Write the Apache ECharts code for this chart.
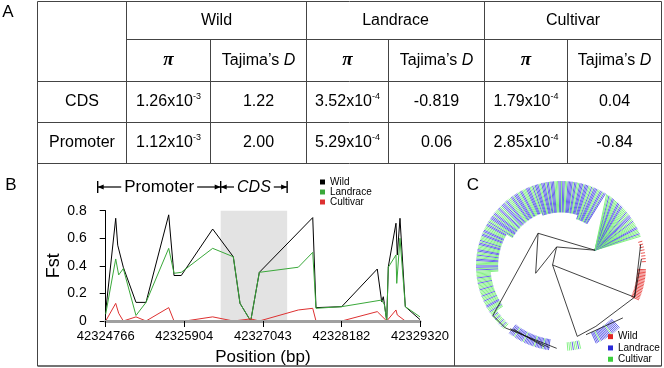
<!DOCTYPE html>
<html>
<head>
<meta charset="utf-8">
<script src="https://cdn.jsdelivr.net/npm/echarts@6/dist/echarts.min.js"></script>
<style>
html, body { margin: 0; padding: 0; background: #fff; }
#main { width: 664px; height: 368px; }
</style>
</head>
<body>
<div id="main"></div>
<script>
/* ---------- A: diversity table ---------- */
var groups = ['Wild', 'Landrace', 'Cultivar'];
var rowNames = ['CDS', 'Promoter'];
var piCDS = [1.26e-3, 3.52e-4, 1.79e-4];
var piPromoter = [1.12e-3, 5.29e-4, 2.85e-4];
var tajimaCDS = ['1.22', '-0.819', '0.04'];
var tajimaPromoter = ['2.00', '0.06', '-0.84'];

/* ---------- B: Fst along the gene ---------- */
var xTicks = [42324766, 42325904, 42327043, 42328182, 42329320];
var fstTicks = [0, 0.2, 0.4, 0.6, 0.8];
var promoterStart = 42324650;
var cdsStart = 42326432;
var cdsEnd = 42327395;

var wildPos = [42324766, 42324911, 42324940, 42325021, 42325205, 42325350, 42325679, 42325756, 42325861,
  42326316, 42326615, 42326712, 42326867, 42326992, 42327766, 42327813, 42328186, 42328701, 42328765,
  42328788, 42328803, 42328838, 42328861, 42328972, 42328991, 42329030, 42329107, 42329320];
var wildFst = [0.07, 0.745, 0.55, 0.39, 0.135, 0.135, 0.77, 0.33, 0.33,
  0.667, 0.466, 0.128, 0, 0.353, 0.75, 0.097, 0.104, 0.377, 0.14,
  0.176, 0.128, 0, 0.394, 0.709, 0.479, 0.745, 0.104, 0.01];

var landPos = [42324766, 42324911, 42324954, 42325021, 42325205, 42325350, 42325679, 42325756, 42325861,
  42326316, 42326615, 42326712, 42326867, 42326992, 42327557, 42327766, 42327813, 42328186, 42328765,
  42328803, 42328838, 42328861, 42328972, 42328983, 42329030, 42329107, 42329320];
var landFst = [0.05, 0.45, 0.334, 0.38, 0.04, 0.135, 0.527, 0.346, 0.353,
  0.527, 0.466, 0.128, 0, 0.353, 0.39, 0.498, 0.092, 0.104, 0.152,
  0.12, 0, 0.39, 0.479, 0.273, 0.6, 0.104, 0.03];

var cultPos = [42324766, 42324911, 42324954, 42325021, 42325205, 42325350, 42325679, 42325756, 42325919,
  42326316, 42326615, 42326867, 42326992, 42327557, 42327766, 42327813, 42328186, 42328701, 42328838,
  42328972, 42328991, 42329107, 42329320];
var cultFst = [0, 0.128, 0.056, 0, 0.03, 0, 0.097, 0, 0,
  0.03, 0, 0.015, 0, 0.08, 0.092, 0, 0, 0.068, 0,
  0.08, 0.044, 0, 0];

/* ---------- C: circular tree ---------- */
// leaf blocks going counter-clockwise: angle range (deg), inner end [radius, angle or null = radial], groups W/L/C
var leafBlocks = [
  { from: 20, to: 58, inner: [0.44, 25], groups: 'CCLCCCLLCCCCLCCLLLCCLCCCCLLCLLCCCLLCCLCC' },
  { from: 58, to: 72, inner: [0.58, null], groups: 'LLCLLCCLLLCLCCL' },
  { from: 72, to: 110, inner: [0.63, null], groups: 'LLCLLLCCLLCLLLLCCLLCLLCCCLLLCLLCLLLCCLLLCL' },
  { from: 110, to: 150, inner: [0.66, null], groups: 'CCLLLCCCLLCCLLLCLLCCCLLCLLLCCLLCCCLLCLLLCCLC' },
  { from: 150, to: 185, inner: [0.74, null], groups: 'LLCCCLLCLLCCCLCLLCCCLLCCLCCLLCCCLLCLCC' },
  { from: 185, to: 215, inner: [0.83, null], groups: 'CCCLCCCLCCCCLCCCCLCCCLCCCLLCCCLCC' },
  { from: 215, to: 228, inner: [0.92, null], groups: 'CLCCLCCCLCCLCC' },
  { from: 232, to: 262, inner: [0.87, null], groups: 'LLLLCLLLLLLCLLLLLLLCLLLLLCLLLL' },
  { from: 274, to: 284, inner: [0.9, null], groups: 'CCCLCCLC' },
  { from: 294, to: 314, inner: [0.86, null], groups: 'LLLCLLLLLLLLCLLLLLLL' },
  { from: 336, to: 358, inner: [0.9, null], groups: 'WWWWWWWWWWWWWWWWWWWWWW' },
  { from: 2, to: 18, inner: [0.95, null], groups: 'WWWWWWWW' }
];
// internal branches [r1, angle1, r2, angle2]
var branches = [
  [0.47, 125, 0.44, 25], [0.23, 103, 0.44, 25], [0.47, 125, 0.99, 216], [0.47, 125, 0.31, 196],
  [0.31, 196, 0.23, 103], [0.23, 103, 0.10, 173], [0.10, 173, 0.94, 337], [0.10, 173, 0.85, 283],
  [0.99, 216, 0.98, 228], [0.98, 228, 0.97, 267], [0.95, 231, 0.97, 262], [0.93, 233, 0.97, 258],
  [0.85, 283, 0.82, 300], [0.82, 300, 0.94, 337], [0.86, 290, 0.95, 320], [0.94, 337, 0.97, 15],
  [0.94, 337, 0.95, 5]
];

var groupColors = ['#e02424', '#2a2ad6', '#3ccf3c'];
var leafColors = ['#e8403c', '#5656e6', '#7aee7a'];
var lineColors = ['#000000', '#3aa83a', '#dd3030'];
var FONT = '"Liberation Sans", Arial, sans-serif';

var x0 = xTicks[0];
var xStep = (xTicks[xTicks.length - 1] - x0) / (xTicks.length - 1);

function pts(pos, val) {
  return pos.map(function (p, i) { return [p - x0, val[i]]; });
}

var leafData = [];
leafBlocks.forEach(function (b) {
  var n = b.groups.length;
  for (var i = 0; i < n; i++) {
    var a = b.from + (b.to - b.from) * (i + 0.5) / n;
    leafData.push([a, b.inner[0], b.inner[1] == null ? a : b.inner[1], 'WLC'.indexOf(b.groups[i])]);
  }
});

function renderLeaf(params, api) {
  var outer = api.coord([1, api.value(0)]);
  var inner = api.coord([api.value(1), api.value(2)]);
  return {
    type: 'line',
    shape: { x1: inner[0], y1: inner[1], x2: outer[0], y2: outer[1] },
    style: { stroke: leafColors[api.value(3)], lineWidth: 0.9 }
  };
}
function renderBranch(params, api) {
  var p1 = api.coord([api.value(0), api.value(1)]);
  var p2 = api.coord([api.value(2), api.value(3)]);
  return {
    type: 'line',
    shape: { x1: p1[0], y1: p1[1], x2: p2[0], y2: p2[1] },
    style: { stroke: '#111', lineWidth: 0.8 }
  };
}

var chart = echarts.init(document.getElementById('main'));

var option = {
  animation: false,
  grid: { left: 105.7, right: 244, top: 210.7, bottom: 47 },
  xAxis: {
    type: 'value', min: 0, max: xStep * (xTicks.length - 1), interval: xStep,
    z: 5,
    name: 'Position (bp)', nameLocation: 'middle', nameGap: 28,
    nameTextStyle: { fontSize: 17, color: '#000', fontFamily: FONT },
    axisLine: { onZero: false, lineStyle: { color: '#a0a0a0', width: 3 } },
    axisTick: { show: true, length: 6, lineStyle: { color: '#000', width: 1 } },
    axisLabel: {
      fontSize: 13, color: '#000', fontFamily: FONT, margin: 9,
      formatter: function (v) { return String(xTicks[Math.round(v / xStep)]); }
    },
    splitLine: { show: false }
  },
  yAxis: {
    type: 'value', min: fstTicks[0], max: fstTicks[fstTicks.length - 1], interval: 0.2,
    offset: 9,
    name: 'Fst', nameLocation: 'middle', nameGap: 30,
    nameTextStyle: { fontSize: 18, color: '#000', fontFamily: FONT },
    axisLine: { show: true, lineStyle: { color: '#000', width: 1 } },
    axisTick: { show: true, length: 6, lineStyle: { color: '#000' } },
    axisLabel: {
      fontSize: 14, color: '#000', fontFamily: FONT, margin: 10,
      formatter: function (v) { return v === 0 ? '0' : v.toFixed(1); }
    },
    splitLine: { show: false }
  },
  polar: { center: [561, 266], radius: 85 },
  angleAxis: { type: 'value', min: 0, max: 360, startAngle: 0, clockwise: false, show: false },
  radiusAxis: { type: 'value', min: 0, max: 1, show: false },
  legend: [{
    orient: 'vertical', left: 320, top: 177, padding: 0, itemGap: 0,
    icon: 'rect', itemWidth: 5, itemHeight: 5,
    textStyle: { fontSize: 10, lineHeight: 10, color: '#000', fontFamily: FONT },
    data: groups.map(function (g, i) { return { name: g, itemStyle: { color: lineColors[i] } }; })
  }, {
    orient: 'vertical', left: 608, top: 331, padding: 0, itemGap: 0,
    icon: 'rect', itemWidth: 5, itemHeight: 5,
    textStyle: { fontSize: 10, lineHeight: 11.3, color: '#000', fontFamily: FONT },
    data: groups.map(function (g, i) { return { name: g, itemStyle: { color: groupColors[i] } }; })
  }],
  series: [{
    name: 'Wild', type: 'line', data: pts(wildPos, wildFst), showSymbol: false,
    lineStyle: { width: 1, color: lineColors[0] }, itemStyle: { color: lineColors[0] },
    markArea: {
      silent: true, itemStyle: { color: '#e3e3e3' },
      data: [[{ coord: [cdsStart - x0, fstTicks[0]] }, { coord: [cdsEnd - x0, fstTicks[4]] }]]
    }
  }, {
    name: 'Landrace', type: 'line', data: pts(landPos, landFst), showSymbol: false,
    lineStyle: { width: 1, color: lineColors[1] }, itemStyle: { color: lineColors[1] }
  }, {
    name: 'Cultivar', type: 'line', data: pts(cultPos, cultFst), showSymbol: false,
    lineStyle: { width: 1, color: lineColors[2] }, itemStyle: { color: lineColors[2] }
  }, {
    name: 'leaves', type: 'custom', coordinateSystem: 'polar', silent: true,
    encode: { angle: 0, radius: 1 }, renderItem: renderLeaf, data: leafData
  }, {
    name: 'branches', type: 'custom', coordinateSystem: 'polar', silent: true,
    encode: { radius: 0, angle: 1 }, renderItem: renderBranch, data: branches
  }]
};
chart.setOption(option);

/* ---------- frames, table text and annotations ---------- */
var g = [];
function line(x1, y1, x2, y2, w, c) {
  g.push({ type: 'line', silent: true, shape: { x1: x1, y1: y1, x2: x2, y2: y2 },
    style: { stroke: c || '#444', lineWidth: w || 1 } });
}
function text(x, y, t, size, extra) {
  var st = { text: t, x: 0, y: 0, fill: '#000', fontSize: size, fontFamily: FONT,
    align: 'center', verticalAlign: 'middle', textAlign: 'center', textVerticalAlign: 'middle' };
  for (var k in extra) st[k] = extra[k];
  g.push({ type: 'text', silent: true, x: x, y: y, style: st });
}

var cols = [37.5, 126.5, 210.5, 306.5, 388.5, 484.5, 567.5, 661.5];
var rows = [1.5, 39.5, 81.5, 122.5, 163.5];
var bottom = 366;

line(cols[0], rows[0], cols[7], rows[0]);
line(cols[1], rows[1], cols[7], rows[1]);
line(cols[0], rows[2], cols[7], rows[2]);
line(cols[0], rows[3], cols[7], rows[3]);
line(cols[0], rows[4], cols[7], rows[4]);
line(cols[0], rows[0], cols[0], bottom);
line(cols[7], rows[0], cols[7], bottom);
[1, 3, 5].forEach(function (i) { line(cols[i], rows[0], cols[i], rows[4]); });
[2, 4, 6].forEach(function (i) { line(cols[i], rows[1], cols[i], rows[4]); });
line(454.5, rows[4], 454.5, bottom);
line(cols[0], bottom, cols[7], bottom, 1.5);

var TS = 16;
var rich = {
  m: { fontSize: TS, lineHeight: 19, fontFamily: FONT, color: '#000' },
  e: { fontSize: 9, lineHeight: 9, verticalAlign: 'top', fontFamily: FONT, color: '#000' },
  n: { fontSize: TS, fontFamily: FONT, color: '#000' },
  i: { fontSize: TS, fontStyle: 'italic', fontFamily: FONT, color: '#000' }
};
function sci(v) {
  var s = v.toExponential(2).split('e');
  return '{m|' + s[0] + 'x10}{e|' + (+s[1]) + '}';
}
function mid(a, b) { return (a + b) / 2; }

groups.forEach(function (name, k) {
  var c = 1 + 2 * k;
  text(mid(cols[c], cols[c + 2]), mid(rows[0], rows[1]), name, TS);
  text(mid(cols[c], cols[c + 1]), mid(rows[1], rows[2]), '\u03c0', 19,
    { fontFamily: '"Liberation Serif", "Times New Roman", serif', fontWeight: 'bold', fontStyle: 'italic' });
  text(mid(cols[c + 1], cols[c + 2]), mid(rows[1], rows[2]), '{n|Tajima\u2019s }{i|D}', TS, { rich: rich });
  text(mid(cols[c], cols[c + 1]), mid(rows[2], rows[3]), sci(piCDS[k]), TS, { rich: rich });
  text(mid(cols[c + 1], cols[c + 2]), mid(rows[2], rows[3]), tajimaCDS[k], TS);
  text(mid(cols[c], cols[c + 1]), mid(rows[3], rows[4]), sci(piPromoter[k]), TS, { rich: rich });
  text(mid(cols[c + 1], cols[c + 2]), mid(rows[3], rows[4]), tajimaPromoter[k], TS);
});
rowNames.forEach(function (name, r) {
  text(mid(cols[0], cols[1]), mid(rows[2 + r], rows[3 + r]), name, TS);
});

text(8, 12, 'A', 17);
text(11, 185, 'B', 17);
text(473, 185, 'C', 17);

// promoter / CDS brackets above panel B
var pS = chart.convertToPixel({ gridIndex: 0 }, [promoterStart - x0, 0])[0];
var cS = chart.convertToPixel({ gridIndex: 0 }, [cdsStart - x0, 0])[0];
var cE = chart.convertToPixel({ gridIndex: 0 }, [cdsEnd - x0, 0])[0];
var yA = 187;
var ctx = document.createElement('canvas').getContext('2d');
function tw(t, size, style) { ctx.font = (style || '') + ' ' + size + 'px ' + FONT; return ctx.measureText(t).width; }
function arrow(xTip, dir) {
  g.push({ type: 'polygon', silent: true,
    shape: { points: [[xTip, yA], [xTip - dir * 6, yA - 2.5], [xTip - dir * 6, yA + 2.5]] },
    style: { fill: '#000' } });
}
function bracket(a, b, label, size, style) {
  var c = mid(a, b), w = tw(label, size, style);
  text(c, yA + 0.5, label, size, style ? { fontStyle: 'italic' } : {});
  line(a, yA, c - w / 2 - 3, yA, 1.2, '#000');
  line(c + w / 2 + 3, yA, b, yA, 1.2, '#000');
  arrow(a, -1);
  arrow(b, 1);
}
[pS, cS, cE].forEach(function (x) { line(x, yA - 6, x, yA + 6, 1.4, '#000'); });
bracket(pS, cS, 'Promoter', 17);
bracket(cS, cE, 'CDS', 16, 'italic');

chart.setOption({ graphic: g });
</script>
</body>
</html>
